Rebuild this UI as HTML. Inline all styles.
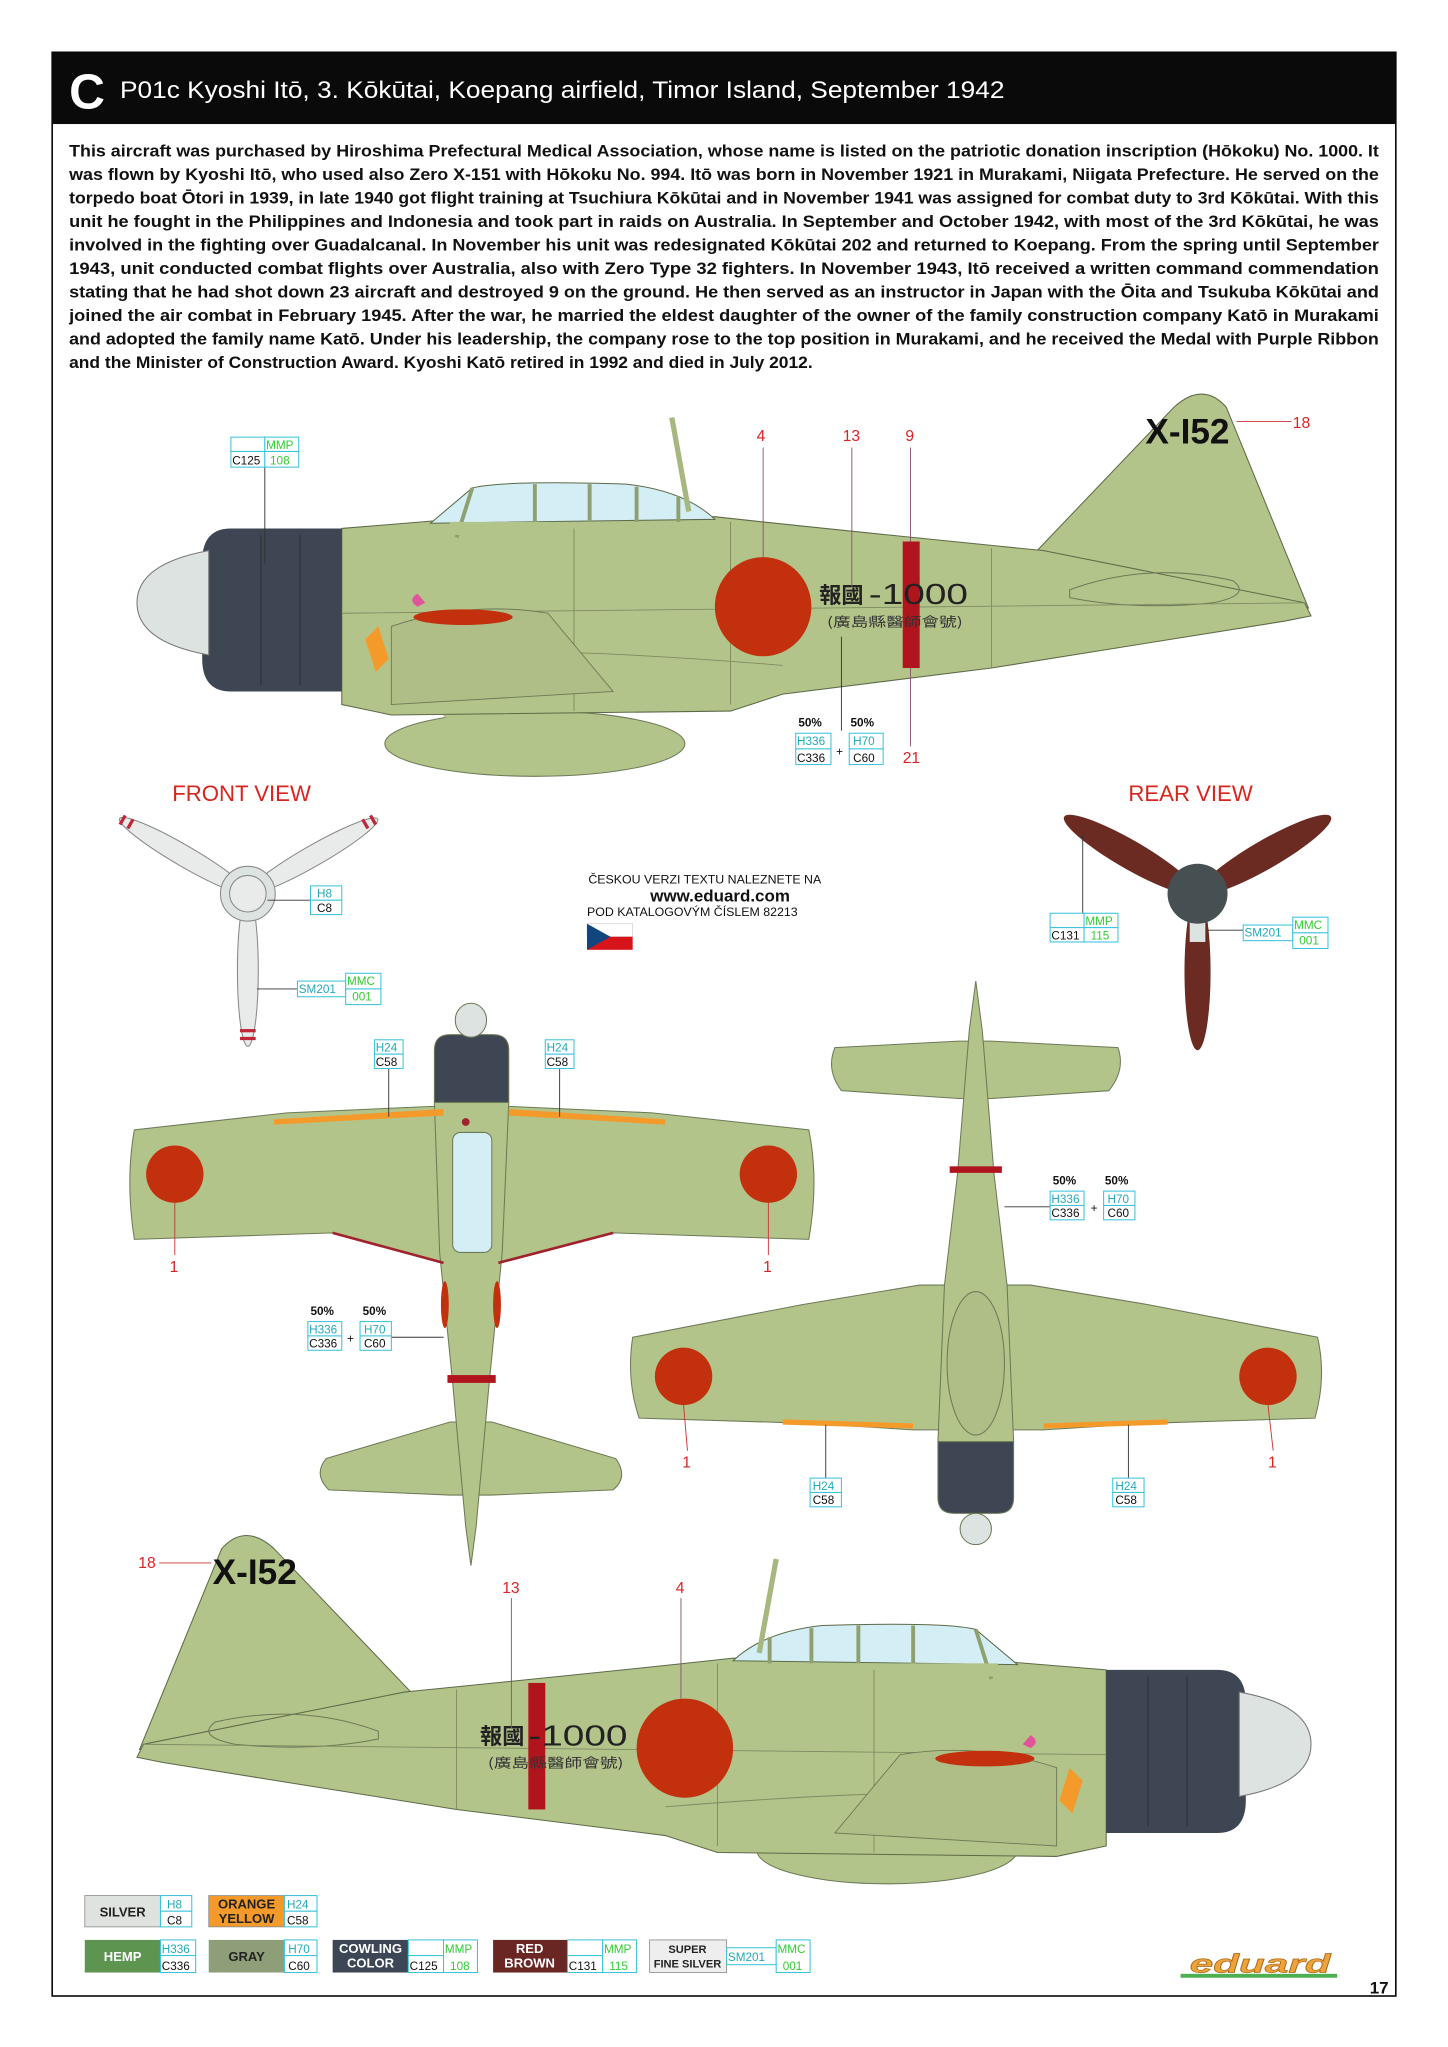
<!DOCTYPE html>
<html><head><meta charset="utf-8"><style>
html,body{margin:0;padding:0;background:#fff;}
svg{display:block;font-family:"Liberation Sans","Noto Sans CJK JP",sans-serif;}
</style></head><body>
<svg width="1448" height="2047" viewBox="0 0 1110 1569" xmlns="http://www.w3.org/2000/svg">
<defs>
<g id="plane">
  <path d="M795,422 L900,312 Q922,292 940,312 L1003,466 Z" fill="#b3c48a" stroke="#5d6a48" stroke-width="0.8"/>
  <path d="M262,405 L335,399 L548,396 Q620,404 800,422 L1000,462 L1005,472 L985,476 L760,512 L600,532 L560,545 L300,548 L262,540 Z" fill="#b3c48a" stroke="#5d6a48" stroke-width="0.8"/>
  <path d="M330,401 L362,374 Q385,368 480,371 Q525,376 548,398 Z" fill="#d3eef4" stroke="#5d6a48" stroke-width="0.8"/>
  <path d="M362,374 L350,412 M410,371 L410,410 M452,371 L452,410 M488,373 L488,410 M520,380 L520,408" stroke="#8fa070" stroke-width="3" fill="none"/>
  <rect x="345" y="400" width="200" height="10" fill="#b3c48a"/>
  <line x1="515" y1="320" x2="528" y2="392" stroke="#a6b880" stroke-width="4"/>
  <path d="M820,452 Q880,430 945,445 Q960,456 930,462 Q870,468 820,458 Z" fill="none" stroke="#6d7a58" stroke-width="0.8"/>
  <path d="M262,470 L1000,462 M560,400 L560,540 M440,405 L440,545 M760,420 L760,512 M300,500 Q420,495 600,510" stroke="#7e8c62" stroke-width="0.7" fill="none"/>
  <path d="M300,480 Q360,460 420,470 L470,530 L300,540 Z" fill="#aebe86" stroke="#6d7a58" stroke-width="0.7"/>
  <ellipse cx="355" cy="473" rx="38" ry="6" fill="#c3300d"/>
  <path d="M280,490 L290,480 L298,505 L288,515 Z" fill="#f39a2a"/>
  <path d="M177,405 L262,405 L262,530 L177,530 Q155,530 155,505 L155,430 Q155,405 177,405 Z" fill="#3e4653"/>
  <path d="M200,410 L200,525 M230,410 L230,525" stroke="#2b313b" stroke-width="0.8"/>
  <path d="M160,422 Q105,432 105,462 Q105,492 160,502 Z" fill="#dde3e0" stroke="#777" stroke-width="0.8"/>
  <path d="M320,455 Q312,460 320,465 L326,462 Z" fill="#e0559a"/>
  <ellipse cx="585" cy="465" rx="37" ry="38" fill="#c3300d"/>
  <rect x="692" y="415" width="13" height="97" fill="#b0141c"/>
</g>
</defs>

<rect x="40" y="40" width="1030" height="1490" fill="none" stroke="#000" stroke-width="1.2"/>
<rect x="40" y="40" width="1030" height="55" fill="#0a0a0a"/>
<text x="53" y="83" font-size="38" font-weight="bold" fill="#fff">C</text>
<text x="92" y="75" font-size="18.5" fill="#fff" textLength="678" lengthAdjust="spacingAndGlyphs">P01c Kyoshi Itō, 3. Kōkūtai, Koepang airfield, Timor Island, September 1942</text>

<g font-size="12.6" font-weight="bold" fill="#111">
<text x="53" y="120" textLength="1004" lengthAdjust="spacingAndGlyphs">This aircraft was purchased by Hiroshima Prefectural Medical Association, whose name is listed on the patriotic donation inscription (Hōkoku) No. 1000. It</text>
<text x="53" y="138" textLength="1004" lengthAdjust="spacingAndGlyphs">was flown by Kyoshi Itō, who used also Zero X-151 with Hōkoku No. 994. Itō was born in November 1921 in Murakami, Niigata Prefecture. He served on the</text>
<text x="53" y="156" textLength="1004" lengthAdjust="spacingAndGlyphs">torpedo boat Ōtori in 1939, in late 1940 got flight training at Tsuchiura Kōkūtai and in November 1941 was assigned for combat duty to 3rd Kōkūtai. With this</text>
<text x="53" y="174" textLength="1004" lengthAdjust="spacingAndGlyphs">unit he fought in the Philippines and Indonesia and took part in raids on Australia. In September and October 1942, with most of the 3rd Kōkūtai, he was</text>
<text x="53" y="192" textLength="1004" lengthAdjust="spacingAndGlyphs">involved in the fighting over Guadalcanal. In November his unit was redesignated Kōkūtai 202 and returned to Koepang. From the spring until September</text>
<text x="53" y="210" textLength="1004" lengthAdjust="spacingAndGlyphs">1943, unit conducted combat flights over Australia, also with Zero Type 32 fighters. In November 1943, Itō received a written command commendation</text>
<text x="53" y="228" textLength="1004" lengthAdjust="spacingAndGlyphs">stating that he had shot down 23 aircraft and destroyed 9 on the ground. He then served as an instructor in Japan with the Ōita and Tsukuba Kōkūtai and</text>
<text x="53" y="246" textLength="1004" lengthAdjust="spacingAndGlyphs">joined the air combat in February 1945. After the war, he married the eldest daughter of the owner of the family construction company Katō in Murakami</text>
<text x="53" y="264" textLength="1004" lengthAdjust="spacingAndGlyphs">and adopted the family name Katō. Under his leadership, the company rose to the top position in Murakami, and he received the Medal with Purple Ribbon</text>
<text x="53" y="282" textLength="570" lengthAdjust="spacingAndGlyphs">and the Minister of Construction Award. Kyoshi Katō retired in 1992 and died in July 2012.</text>
</g>

<ellipse cx="410" cy="570" rx="115" ry="25" fill="#b3c48a" stroke="#6d7a58" stroke-width="0.8"/>
<rect x="340" y="540" width="50" height="10" fill="#b3c48a"/>
<use href="#plane"/>
<text x="878" y="340" font-size="27" font-weight="bold" fill="#111">X-I52</text>
<text x="628" y="462" font-size="17" font-weight="bold" fill="#222" font-family="Noto Sans CJK JP,sans-serif">報國</text>
<text x="666" y="463" font-size="22" fill="#222" textLength="76" lengthAdjust="spacingAndGlyphs">-1000</text>
<text x="634" y="480" font-size="10" fill="#333" textLength="104" lengthAdjust="spacingAndGlyphs" font-family="Noto Sans CJK JP,sans-serif">(廣島縣醫師會號)</text>
<g stroke="#8a5070" stroke-width="0.7">
<line x1="585" y1="343" x2="585" y2="428"/><line x1="653" y1="343" x2="653" y2="450"/>
<line x1="698" y1="343" x2="698" y2="415"/><line x1="698" y1="512" x2="698" y2="572"/>
<line x1="948" y1="323" x2="990" y2="323" stroke="#c33"/>
<line x1="203" y1="358" x2="203" y2="432" stroke="#333"/>
<line x1="645" y1="560" x2="645" y2="488" stroke="#333"/>
</g>
<g font-size="12" fill="#d22"><text x="580" y="338">4</text><text x="646" y="338">13</text><text x="694" y="338">9</text><text x="692" y="585">21</text><text x="991" y="328">18</text></g>

<g font-size="9" stroke-width="0.8">
 <rect x="177" y="335" width="26" height="11" fill="#fff" stroke="#3bc3dc"/><rect x="203" y="335" width="26" height="11" fill="#fff" stroke="#3bc3dc"/>
 <rect x="177" y="346" width="26" height="12" fill="#fff" stroke="#3bc3dc"/><rect x="203" y="346" width="26" height="12" fill="#fff" stroke="#3bc3dc"/>
 <text x="204" y="344" fill="#3c3">MMP</text><text x="178" y="356" fill="#111">C125</text><text x="207" y="356" fill="#3c3">108</text>
 <text x="612" y="557" fill="#111" font-weight="bold">50%</text><text x="652" y="557" fill="#111" font-weight="bold">50%</text>
 <rect x="610" y="562" width="27" height="12" fill="#fff" stroke="#3bc3dc"/><rect x="610" y="574" width="27" height="12" fill="#fff" stroke="#3bc3dc"/>
 <rect x="651" y="562" width="26" height="12" fill="#fff" stroke="#3bc3dc"/><rect x="651" y="574" width="26" height="12" fill="#fff" stroke="#3bc3dc"/>
 <text x="611" y="571" fill="#2ab">H336</text><text x="611" y="584" fill="#111">C336</text><text x="641" y="579" fill="#111">+</text>
 <text x="654" y="571" fill="#2ab">H70</text><text x="654" y="584" fill="#111">C60</text>
</g>

<text x="132" y="614" font-size="17" fill="#d8251e">FRONT VIEW</text>
<text x="865" y="614" font-size="17" fill="#d8251e">REAR VIEW</text>

<g stroke="#888" stroke-width="0.8" fill="#e8ebea">
<ellipse cx="141" cy="656" rx="57" ry="8" transform="rotate(30.2 141 656)"/>
<ellipse cx="240" cy="656" rx="57" ry="8" transform="rotate(-29.7 240 656)"/>
<ellipse cx="190" cy="744" rx="58" ry="8" transform="rotate(90 190 744)"/>
<circle cx="190" cy="685" r="21" fill="#dde3e0"/><circle cx="190" cy="685" r="14" fill="#e8ebea"/>
</g>
<g stroke="#c0283a" stroke-width="2.5">
<line x1="96" y1="625" x2="92" y2="632"/><line x1="102" y1="628" x2="98" y2="635"/>
<line x1="284" y1="625" x2="288" y2="632"/><line x1="278" y1="628" x2="282" y2="635"/>
<line x1="184" y1="790" x2="196" y2="790"/><line x1="184" y1="796" x2="196" y2="796"/>
</g>
<g fill="#6b2a22">
<ellipse cx="866" cy="655" rx="58" ry="11" transform="rotate(30 866 655)"/>
<ellipse cx="970" cy="655" rx="58" ry="11" transform="rotate(-30 970 655)"/>
<ellipse cx="918" cy="745" rx="60" ry="10" transform="rotate(90 918 745)"/>
</g>
<rect x="912" y="700" width="12" height="22" fill="#dde3e0"/>
<circle cx="918" cy="685" r="23" fill="#464f52"/>

<g stroke="#333" stroke-width="0.7"><line x1="205" y1="690" x2="238" y2="690"/><line x1="197" y1="758" x2="228" y2="758"/>
<line x1="830" y1="700" x2="830" y2="640"/><line x1="925" y1="713" x2="953" y2="713"/></g>
<g font-size="9" stroke-width="0.8">
 <rect x="238" y="679" width="24" height="11" fill="#fff" stroke="#3bc3dc"/><rect x="238" y="690" width="24" height="11" fill="#fff" stroke="#3bc3dc"/>
 <text x="243" y="688" fill="#2ab">H8</text><text x="243" y="699" fill="#111">C8</text>
 <rect x="228" y="752" width="37" height="12" fill="#fff" stroke="#3bc3dc"/><rect x="265" y="746" width="27" height="12" fill="#fff" stroke="#3bc3dc"/><rect x="265" y="758" width="27" height="12" fill="#fff" stroke="#3bc3dc"/>
 <text x="229" y="761" fill="#2ab">SM201</text><text x="266" y="755" fill="#3c3">MMC</text><text x="270" y="767" fill="#3c3">001</text>
 <rect x="805" y="700" width="26" height="11" fill="#fff" stroke="#3bc3dc"/><rect x="831" y="700" width="26" height="11" fill="#fff" stroke="#3bc3dc"/>
 <rect x="805" y="711" width="26" height="11" fill="#fff" stroke="#3bc3dc"/><rect x="831" y="711" width="26" height="11" fill="#fff" stroke="#3bc3dc"/>
 <text x="832" y="709" fill="#3c3">MMP</text><text x="806" y="720" fill="#111">C131</text><text x="836" y="720" fill="#3c3">115</text>
 <rect x="953" y="709" width="38" height="12" fill="#fff" stroke="#3bc3dc"/><rect x="991" y="703" width="27" height="12" fill="#fff" stroke="#3bc3dc"/><rect x="991" y="715" width="27" height="12" fill="#fff" stroke="#3bc3dc"/>
 <text x="954" y="718" fill="#2ab">SM201</text><text x="992" y="712" fill="#3c3">MMC</text><text x="996" y="724" fill="#3c3">001</text>
</g>

<text x="451" y="677" font-size="9.5" fill="#111">ČESKOU VERZI TEXTU NALEZNETE NA</text>
<text x="552" y="691" font-size="13" font-weight="bold" fill="#111" text-anchor="middle">www.eduard.com</text>
<text x="450" y="702" font-size="9.5" fill="#111">POD KATALOGOVÝM ČÍSLEM 82213</text>
<rect x="450" y="708" width="35" height="10" fill="#fff" stroke="#ccc" stroke-width="0.5"/>
<rect x="450" y="718" width="35" height="10" fill="#d7141a"/>
<path d="M450,708 L468,718 L450,728 Z" fill="#11457e"/>

<g stroke="#6d7a58" stroke-width="0.8">
<path d="M103,866 Q96,905 103,950 L255,945 L340,968 L382,968 L470,945 L620,950 Q628,905 620,866 L500,853 L390,848 L332,848 L220,853 Z" fill="#b3c48a"/>
<path d="M250,1118 L345,1090 L377,1090 L472,1118 Q482,1132 470,1142 L377,1146 L345,1146 L252,1142 Q240,1130 250,1118 Z" fill="#b3c48a"/>
<path d="M333,845 L390,845 L385,960 L375,1060 L365,1170 L361,1200 L357,1170 L347,1060 L337,960 Z" fill="#b3c48a"/>
<rect x="347" y="868" width="30" height="92" rx="6" fill="#d3eef4"/>
<path d="M333,845 L333,805 Q333,793 345,793 L378,793 Q390,793 390,805 L390,845 Z" fill="#3e4653"/>
<ellipse cx="361" cy="782" rx="12" ry="13" fill="#dde3e0"/>
</g>
<path d="M210,858 L340,850 L340,855 L210,862 Z M390,850 L510,858 L510,862 L390,855 Z" fill="#f39a2a"/>
<path d="M255,945 L340,968 M470,945 L382,968" stroke="#a0222c" stroke-width="2" fill="none"/>
<circle cx="134" cy="900" r="22" fill="#c3300d"/><circle cx="589" cy="900" r="22" fill="#c3300d"/>
<ellipse cx="341" cy="1000" rx="3" ry="18" fill="#c3300d"/><ellipse cx="381" cy="1000" rx="3" ry="18" fill="#c3300d"/>
<rect x="343" y="1054" width="37" height="6" fill="#b0141c"/>
<circle cx="357" cy="860" r="3" fill="#a0222c"/>

<g stroke="#6d7a58" stroke-width="0.8">
<path d="M640,803 Q633,820 645,836 L735,842 L760,842 L850,836 Q863,820 857,803 L760,798 L735,798 Z" fill="#b3c48a"/>
<path d="M485,1025 Q480,1058 490,1087 L620,1091 L700,1096 L800,1096 L880,1091 L1008,1087 Q1017,1055 1010,1025 L880,1000 L790,985 L705,985 L615,1000 Z" fill="#b3c48a"/>
<path d="M748,752 L753,790 L762,900 L772,985 L777,1105 L719,1105 L724,985 L734,900 L743,790 Z" fill="#b3c48a"/>
<ellipse cx="748" cy="1045" rx="22" ry="55" fill="#aebe86"/>
<path d="M719,1105 L777,1105 L777,1148 Q777,1160 765,1160 L731,1160 Q719,1160 719,1148 Z" fill="#3e4653"/>
<ellipse cx="748" cy="1172" rx="12" ry="12" fill="#dde3e0"/>
</g>
<path d="M600,1088 L700,1091 L700,1095 L600,1092 Z M800,1091 L895,1088 L895,1092 L800,1095 Z" fill="#f39a2a"/>
<circle cx="524" cy="1055" r="22" fill="#c3300d"/><circle cx="972" cy="1055" r="22" fill="#c3300d"/>
<rect x="728" y="894" width="40" height="5" fill="#b0141c"/>

<g stroke="#333" stroke-width="0.7">
<line x1="298" y1="818" x2="298" y2="856"/><line x1="429" y1="818" x2="429" y2="856"/>
<line x1="300" y1="1025" x2="340" y2="1025"/>
<line x1="770" y1="925" x2="805" y2="925"/>
<line x1="633" y1="1133" x2="633" y2="1092"/><line x1="865" y1="1133" x2="865" y2="1092"/>
</g>
<g stroke="#c33" stroke-width="0.7"><line x1="134" y1="922" x2="134" y2="962"/><line x1="589" y1="922" x2="589" y2="962"/>
<line x1="524" y1="1077" x2="527" y2="1112"/><line x1="972" y1="1077" x2="976" y2="1112"/></g>
<g font-size="12" fill="#d22"><text x="130" y="975">1</text><text x="585" y="975">1</text><text x="523" y="1125">1</text><text x="972" y="1125">1</text></g>
<g font-size="9" stroke-width="0.8">
 <rect x="287" y="797" width="22" height="11" fill="#fff" stroke="#3bc3dc"/><rect x="287" y="808" width="22" height="11" fill="#fff" stroke="#3bc3dc"/>
 <text x="288" y="806" fill="#2ab">H24</text><text x="288" y="817" fill="#111">C58</text>
 <rect x="418" y="797" width="22" height="11" fill="#fff" stroke="#3bc3dc"/><rect x="418" y="808" width="22" height="11" fill="#fff" stroke="#3bc3dc"/>
 <text x="419" y="806" fill="#2ab">H24</text><text x="419" y="817" fill="#111">C58</text>
 <rect x="621" y="1133" width="24" height="11" fill="#fff" stroke="#3bc3dc"/><rect x="621" y="1144" width="24" height="11" fill="#fff" stroke="#3bc3dc"/>
 <text x="623" y="1142" fill="#2ab">H24</text><text x="623" y="1153" fill="#111">C58</text>
 <rect x="853" y="1133" width="24" height="11" fill="#fff" stroke="#3bc3dc"/><rect x="853" y="1144" width="24" height="11" fill="#fff" stroke="#3bc3dc"/>
 <text x="855" y="1142" fill="#2ab">H24</text><text x="855" y="1153" fill="#111">C58</text>
 <text x="238" y="1008" fill="#111" font-weight="bold">50%</text><text x="278" y="1008" fill="#111" font-weight="bold">50%</text>
 <rect x="236" y="1013" width="26" height="11" fill="#fff" stroke="#3bc3dc"/><rect x="236" y="1024" width="26" height="11" fill="#fff" stroke="#3bc3dc"/>
 <rect x="276" y="1013" width="24" height="11" fill="#fff" stroke="#3bc3dc"/><rect x="276" y="1024" width="24" height="11" fill="#fff" stroke="#3bc3dc"/>
 <text x="237" y="1022" fill="#2ab">H336</text><text x="237" y="1033" fill="#111">C336</text><text x="266" y="1029" fill="#111">+</text>
 <text x="279" y="1022" fill="#2ab">H70</text><text x="279" y="1033" fill="#111">C60</text>
 <text x="807" y="908" fill="#111" font-weight="bold">50%</text><text x="847" y="908" fill="#111" font-weight="bold">50%</text>
 <rect x="805" y="913" width="26" height="11" fill="#fff" stroke="#3bc3dc"/><rect x="805" y="924" width="26" height="11" fill="#fff" stroke="#3bc3dc"/>
 <rect x="846" y="913" width="24" height="11" fill="#fff" stroke="#3bc3dc"/><rect x="846" y="924" width="24" height="11" fill="#fff" stroke="#3bc3dc"/>
 <text x="806" y="922" fill="#2ab">H336</text><text x="806" y="933" fill="#111">C336</text><text x="836" y="929" fill="#111">+</text>
 <text x="849" y="922" fill="#2ab">H70</text><text x="849" y="933" fill="#111">C60</text>
</g>

<ellipse cx="680" cy="1418" rx="100" ry="26" fill="#b3c48a" stroke="#6d7a58" stroke-width="0.8"/>
<use href="#plane" transform="translate(1110,875) scale(-1,1)"/>
<text x="163" y="1214" font-size="27" font-weight="bold" fill="#111">X-I52</text>
<text x="368" y="1337" font-size="17" font-weight="bold" fill="#222" font-family="Noto Sans CJK JP,sans-serif">報國</text>
<text x="405" y="1338" font-size="22" fill="#222" textLength="76" lengthAdjust="spacingAndGlyphs">-1000</text>
<text x="374" y="1355" font-size="10" fill="#333" textLength="104" lengthAdjust="spacingAndGlyphs" font-family="Noto Sans CJK JP,sans-serif">(廣島縣醫師會號)</text>
<g stroke="#8a5070" stroke-width="0.7"><line x1="392" y1="1225" x2="392" y2="1325"/><line x1="522" y1="1225" x2="522" y2="1302"/><line x1="122" y1="1198" x2="162" y2="1198" stroke="#c33"/></g>
<g font-size="12" fill="#d22"><text x="106" y="1202">18</text><text x="385" y="1221">13</text><text x="518" y="1221">4</text></g>

<g font-size="10" font-weight="bold" text-anchor="middle">
 <rect x="65" y="1453" width="58" height="24" fill="#dfe3e0" stroke="#888" stroke-width="0.6"/><text x="94" y="1469" fill="#222">SILVER</text>
 <rect x="160" y="1453" width="58" height="24" fill="#f39a2a" stroke="#888" stroke-width="0.6"/><text x="189" y="1463" fill="#222">ORANGE</text><text x="189" y="1474" fill="#222">YELLOW</text>
 <rect x="65" y="1487" width="58" height="25" fill="#5c9450"/><text x="94" y="1503" fill="#fff">HEMP</text>
 <rect x="160" y="1487" width="58" height="25" fill="#8e9e78"/><text x="189" y="1503" fill="#222">GRAY</text>
 <rect x="255" y="1487" width="58" height="25" fill="#3c4654"/><text x="284" y="1497" fill="#fff">COWLING</text><text x="284" y="1508" fill="#fff">COLOR</text>
 <rect x="378" y="1487" width="57" height="25" fill="#6a2622"/><text x="406" y="1497" fill="#fff">RED</text><text x="406" y="1508" fill="#fff">BROWN</text>
 <rect x="498" y="1487" width="59" height="25" fill="#eeeeee" stroke="#888" stroke-width="0.6"/><text x="527" y="1497" fill="#222" font-size="8.5">SUPER</text><text x="527" y="1508" fill="#222" font-size="8.5">FINE SILVER</text>
</g>
<g font-size="9" stroke-width="0.8">
 <rect x="123" y="1453" width="24" height="12" fill="#fff" stroke="#3bc3dc"/><rect x="123" y="1465" width="24" height="12" fill="#fff" stroke="#3bc3dc"/>
 <text x="128" y="1463" fill="#2ab">H8</text><text x="128" y="1475" fill="#111">C8</text>
 <rect x="218" y="1453" width="25" height="12" fill="#fff" stroke="#3bc3dc"/><rect x="218" y="1465" width="25" height="12" fill="#fff" stroke="#3bc3dc"/>
 <text x="220" y="1463" fill="#2ab">H24</text><text x="220" y="1475" fill="#111">C58</text>
 <rect x="123" y="1487" width="27" height="12" fill="#fff" stroke="#3bc3dc"/><rect x="123" y="1499" width="27" height="13" fill="#fff" stroke="#3bc3dc"/>
 <text x="124" y="1497" fill="#2ab">H336</text><text x="124" y="1510" fill="#111">C336</text>
 <rect x="218" y="1487" width="25" height="12" fill="#fff" stroke="#3bc3dc"/><rect x="218" y="1499" width="25" height="13" fill="#fff" stroke="#3bc3dc"/>
 <text x="221" y="1497" fill="#2ab">H70</text><text x="221" y="1510" fill="#111">C60</text>
 <rect x="313" y="1487" width="27" height="12" fill="#fff" stroke="#3bc3dc"/><rect x="313" y="1499" width="27" height="13" fill="#fff" stroke="#3bc3dc"/><rect x="340" y="1487" width="26" height="25" fill="#fff" stroke="#3bc3dc"/>
 <text x="314" y="1510" fill="#111">C125</text><text x="341" y="1497" fill="#3c3">MMP</text><text x="345" y="1510" fill="#3c3">108</text>
 <rect x="435" y="1487" width="27" height="12" fill="#fff" stroke="#3bc3dc"/><rect x="435" y="1499" width="27" height="13" fill="#fff" stroke="#3bc3dc"/><rect x="462" y="1487" width="26" height="25" fill="#fff" stroke="#3bc3dc"/>
 <text x="436" y="1510" fill="#111">C131</text><text x="463" y="1497" fill="#3c3">MMP</text><text x="467" y="1510" fill="#3c3">115</text>
 <rect x="557" y="1493" width="38" height="13" fill="#fff" stroke="#3bc3dc"/><rect x="595" y="1487" width="26" height="25" fill="#fff" stroke="#3bc3dc"/>
 <text x="558" y="1503" fill="#2ab">SM201</text><text x="596" y="1497" fill="#3c3">MMC</text><text x="600" y="1510" fill="#3c3">001</text>
</g>

<text x="912" y="1512" font-size="20" font-weight="bold" font-style="italic" fill="#f0a23a" stroke="#a86a1a" stroke-width="0.5" textLength="108" lengthAdjust="spacingAndGlyphs">eduard</text>
<rect x="905" y="1513" width="120" height="3" fill="#4caf50"/>
<text x="1050" y="1528" font-size="13" font-weight="bold" fill="#111">17</text>
</svg>
</body></html>
